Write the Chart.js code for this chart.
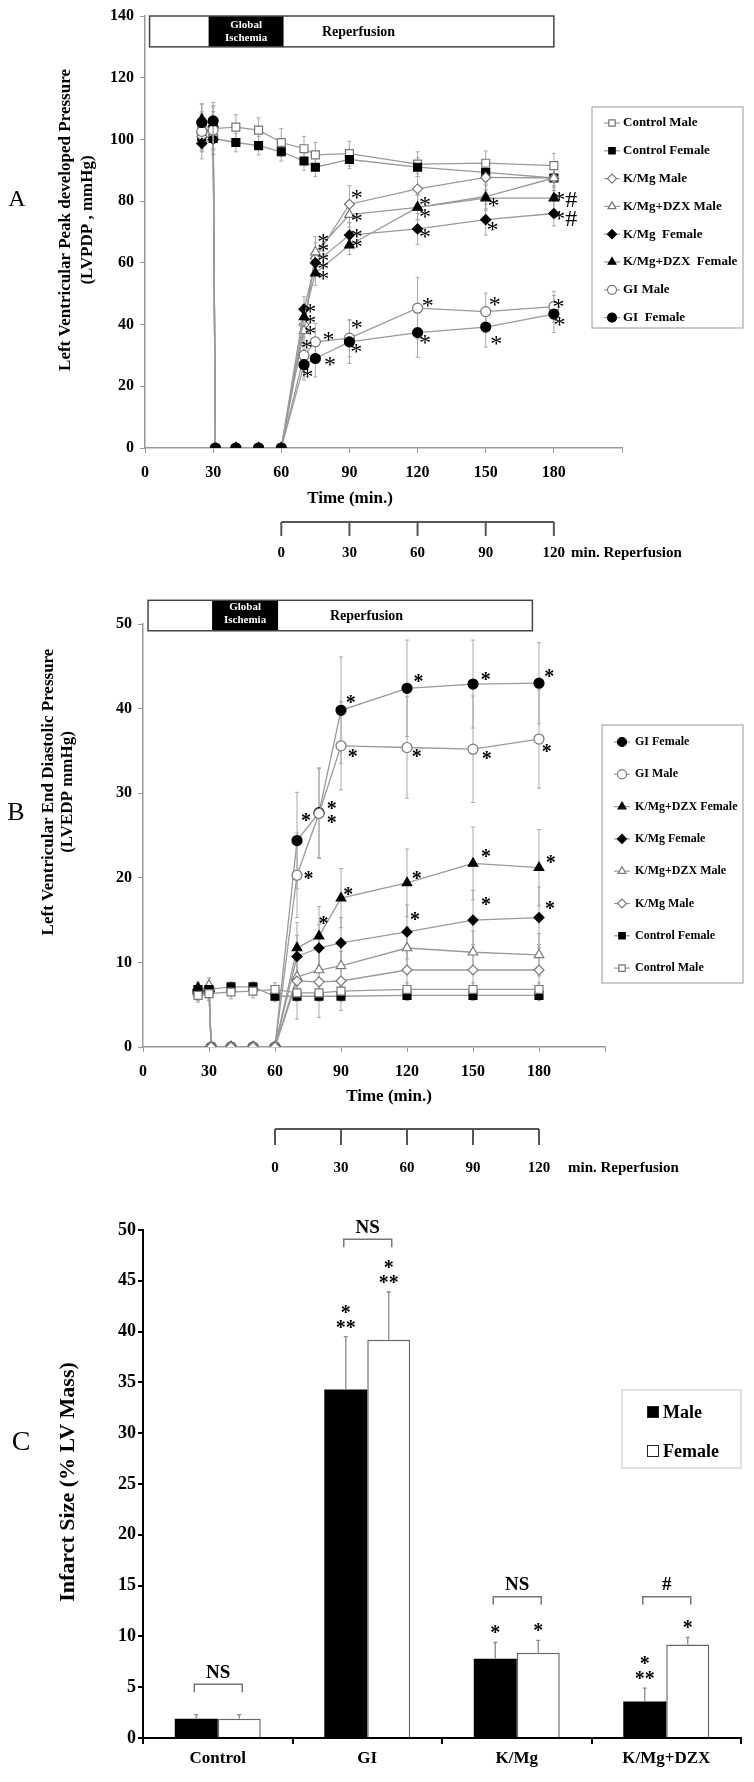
<!DOCTYPE html>
<html lang="en">
<head>
<meta charset="UTF-8">
<title>LVPDP, LVEDP and infarct size</title>
<script src="https://cdn.jsdelivr.net/npm/chart.js"></script>
<style>
  body { margin: 0; background: #fff; }
  #page { position: relative; width: 754px; height: 1782px; }
  canvas { position: absolute; left: 0; }
</style>
</head>
<body>
<div id="page">
  <canvas id="chartA" width="754" height="580" style="top:0px"></canvas>
  <canvas id="chartB" width="754" height="605" style="top:580px"></canvas>
  <canvas id="chartC" width="754" height="597" style="top:1185px"></canvas>
</div>
<script>
// ---------- Panel A: LV peak developed pressure (mmHg) ----------
const timeA = [25, 30, 31, 40, 50, 60, 70, 75, 90, 120, 150, 180];
const timeAControl = [25, 30, 40, 50, 60, 70, 75, 90, 120, 150, 180];
const labelsA = ['Control Male', 'Control Female', 'K/Mg Male', 'K/Mg+DZX Male',
                 'K/Mg  Female', 'K/Mg+DZX  Female', 'GI Male', 'GI  Female'];
const controlMaleA      = [103, 103.5, 104, 103, 99, 97, 95, 95.4, 92, 92.3, 91.5];
const controlFemaleA    = [101, 100.3, 99, 98, 96, 93, 91, 93.5, 91, 89.3, 87.5];
const kmgMaleA          = [101, 104, 0, 0, 0, 0, 40, 61.5, 79, 84, 87.7, 87.5];
const kmgDzxMaleA       = [103, 102, 0, 0, 0, 0, 38, 63.5, 75.6, 78, 81.5, 87.5];
const kmgFemaleA        = [98.7, 100, 0, 0, 0, 0, 45, 60, 69, 71, 74, 76];
const kmgDzxFemaleA     = [106.5, 105, 0, 0, 0, 0, 42.5, 56.7, 65.7, 78, 81, 81];
const giMaleA           = [102.6, 103, 0, 0, 0, 0, 30, 34.4, 35.6, 45.3, 44.2, 45.8];
const giFemaleA         = [105.5, 106, 0, 0, 0, 0, 27, 29, 34.4, 37.4, 39.2, 43.4];
const controlMaleAErr   = [6, 7, 4, 4, 4.5, 4, 4, 4, 4, 4, 4];
const controlFemaleAErr = [5, 5, 3, 3, 3, 3, 3, 3, 3, 3, 3];
const kmgMaleAErr       = [5, 5, 0, 0, 0, 0, 4, 5, 6, 5, 4, 4];
const kmgDzxMaleAErr    = [5, 5, 0, 0, 0, 0, 5, 5, 4, 4, 4, 4];
const kmgFemaleAErr     = [5, 5, 0, 0, 0, 0, 4, 4, 4, 5, 5, 4];
const kmgDzxFemaleAErr  = [5, 6, 0, 0, 0, 0, 4, 4, 3, 4, 4, 4];
const giMaleAErr        = [6, 6, 0, 0, 0, 0, 7, 6, 6, 10, 6, 5];
const giFemaleAErr      = [6, 6, 0, 0, 0, 0, 5, 6, 7, 8, 6.5, 6];
// significance marks: [time, value, text]
const marksA = [
  [72.7, 45.2, '*'], [72.7, 41.5, '*'], [72.7, 38.2, '*'], [71.2, 33.4, '*'], [71.5, 24.2, '*'],
  [78.5, 67.8, '*'], [78.5, 64.9, '*'], [78.5, 61.7, '*'], [78.5, 59.2, '*'], [78.5, 56, '*'],
  [80.8, 36.1, '*'], [81.5, 28, '*'],
  [93.2, 82, '*'], [93.2, 74.8, '*'], [93.2, 69.6, '*'], [93.2, 66.4, '*'], [93.2, 39.9, '*'], [93, 32.3, '*'],
  [123.3, 79.8, '*'], [123.3, 76, '*'], [123.3, 69.6, '*'], [124.5, 47.1, '*'], [123.3, 35.3, '*'],
  [153.4, 79.5, '*'], [153, 71.7, '*'], [154, 47.4, '*'], [154.6, 34.7, '*'],
  [185, 80.4, '*#'], [185, 74.4, '*#'], [182, 46.9, '*'], [182.5, 40.9, '*']
];

// ---------- Panel B: LV end diastolic pressure (mmHg) ----------
const timeB = [25, 30, 31, 40, 50, 60, 70, 80, 90, 120, 150, 180];
const timeBControl = [25, 30, 40, 50, 60, 70, 80, 90, 120, 150, 180];
const labelsB = ['GI Female', 'GI Male', 'K/Mg+DZX Female', 'K/Mg Female',
                 'K/Mg+DZX Male', 'K/Mg Male', 'Control Female', 'Control Male'];
const giFemaleB         = [6.5, 6.8, 0, 0, 0, 0, 24.4, 27.7, 39.8, 42.4, 42.9, 43.0];
const giMaleB           = [6.3, 6.5, 0, 0, 0, 0, 20.3, 27.6, 35.6, 35.4, 35.2, 36.4];
const kmgDzxFemaleB     = [7.0, 6.8, 0, 0, 0, 0, 11.7, 13.1, 17.6, 19.4, 21.7, 21.2];
const kmgFemaleB        = [6.8, 6.6, 0, 0, 0, 0, 10.7, 11.7, 12.3, 13.6, 15.0, 15.3];
const kmgDzxMaleB       = [6.6, 7.3, 0, 0, 0, 0, 8.3, 9.1, 9.6, 11.7, 11.2, 10.9];
const kmgMaleB          = [6.4, 6.5, 0, 0, 0, 0, 7.8, 7.7, 7.8, 9.1, 9.1, 9.1];
const controlFemaleB    = [6.8, 6.8, 7.1, 7.1, 6.0, 6.0, 6.0, 6.0, 6.1, 6.1, 6.1];
const controlMaleB      = [6.1, 6.3, 6.5, 6.6, 6.8, 6.4, 6.4, 6.6, 6.8, 6.8, 6.8];
const giFemaleBErr      = [0.8, 0.8, 0, 0, 0, 0, 5.7, 5.3, 6.3, 5.7, 5.2, 4.8];
const giMaleBErr        = [0.8, 0.8, 0, 0, 0, 0, 5, 5.3, 5.2, 6, 6.3, 5.8];
const kmgDzxFemaleBErr  = [0.7, 0.7, 0, 0, 0, 0, 3, 3.5, 3.5, 4, 4.3, 4.5];
const kmgFemaleBErr     = [0.7, 0.7, 0, 0, 0, 0, 2.5, 2.8, 3, 3.2, 3.5, 3.6];
const kmgDzxMaleBErr    = [0.8, 0.9, 0, 0, 0, 0, 2.5, 2.5, 2.5, 2.5, 2.5, 2.5];
const kmgMaleBErr       = [0.7, 0.7, 0, 0, 0, 0, 4.5, 4.2, 3.5, 3, 3, 3];
const controlFemaleBErr = [0.6, 0.6, 0.6, 0.6, 0.6, 0.6, 0.6, 0.6, 0.6, 0.6, 0.6];
const controlMaleBErr   = [0.8, 0.8, 0.8, 0.8, 0.8, 0.8, 0.8, 0.8, 0.8, 0.8, 0.8];
const marksB = [
  [74.1, 27.2, '*'], [85.8, 28.6, '*'], [85.8, 27.0, '*'], [94.4, 41.1, '*'], [95.3, 34.7, '*'],
  [75.2, 20.3, '*'], [82, 15.0, '*'], [93.3, 18.4, '*'],
  [125.2, 43.6, '*'], [124.4, 34.7, '*'], [155.8, 43.8, '*'], [156.2, 34.5, '*'],
  [184.7, 44.2, '*'], [183.5, 35.3, '*'],
  [124.4, 20.3, '*'], [123.6, 15.5, '*'], [155.9, 22.9, '*'], [155.9, 17.2, '*'],
  [185.3, 22.2, '*'], [185, 16.8, '*']
];

// shared time axis annotations
const reperfStart = 60;
const reperfTicks = [0, 30, 60, 90, 120];

// ---------- Panel C: infarct size (% LV mass) ----------
const groupsC = ['Control', 'GI', 'K/Mg', 'K/Mg+DZX'];
const infarctMale      = [1.9, 34.3, 7.8, 3.6];
const infarctFemale    = [1.9, 39.2, 8.4, 9.2];
const infarctMaleErr   = [0.4, 5.2, 1.6, 1.3];
const infarctFemaleErr = [0.4, 4.7, 1.2, 0.7];
const starsMale   = [[], ['*', '**'], ['*'], ['*', '**']];
const starsFemale = [[], ['*', '**'], ['*'], ['*']];
const pairLabels  = ['NS', 'NS', 'NS', '#'];
const pairLevel   = [5.3, 49.1, 13.9, 13.9];

// ---------- look ----------
const SERIF = '"Liberation Serif", "Times New Roman", serif';
Chart.defaults.font.family = SERIF;
Chart.defaults.color = '#000';

const markerStyles = {
  'Control Male':   { shape: 'rect', filled: false, r: 5.6 },
  'Control Female': { shape: 'rect', filled: true, r: 5.6 },
  'K/Mg Male':      { shape: 'rectRot', filled: false, r: 5 },
  'K/Mg Female':    { shape: 'rectRot', filled: true, r: 5 },
  'K/Mg+DZX Male':  { shape: 'triangle', filled: false, r: 5.5 },
  'K/Mg+DZX Female':{ shape: 'triangle', filled: true, r: 5.5 },
  'GI Male':        { shape: 'circle', filled: false, r: 5 },
  'GI Female':      { shape: 'circle', filled: true, r: 5 }
};

function series(label, times, values, errors, order) {
  const st = markerStyles[label.replace(/\s+/g, ' ')];
  return {
    label: label,
    order: order,
    data: times.map((t, i) => ({ x: t, y: values[i] })),
    errors: errors,
    borderColor: '#9a9a9a',
    borderWidth: 1.3,
    pointStyle: st.shape,
    pointRadius: st.r,
    pointBackgroundColor: st.filled ? '#000' : '#fff',
    pointBorderColor: st.filled ? '#000' : '#777',
    pointBorderWidth: 1.2,
    tension: 0,
    fill: false
  };
}

function rotated(ctx, text, cx, cy) {
  ctx.save();
  ctx.translate(cx, cy);
  ctx.rotate(-Math.PI / 2);
  ctx.textAlign = 'center';
  ctx.textBaseline = 'middle';
  ctx.fillText(text, 0, 0);
  ctx.restore();
}

// place text so that its ink is centred on (x, y)
function inkCentered(ctx, text, x, y) {
  ctx.textAlign = 'center';
  ctx.textBaseline = 'alphabetic';
  const m = ctx.measureText(text);
  const base = y + (m.actualBoundingBoxAscent - m.actualBoundingBoxDescent) / 2;
  ctx.fillText(text, x, base);
}

const lineErrorBars = {
  id: 'lineErrorBars',
  beforeDatasetsDraw(chart) {
    const ctx = chart.ctx, ys = chart.scales.y;
    ctx.save();
    ctx.strokeStyle = '#a8a8a8';
    ctx.lineWidth = 1;
    chart.data.datasets.forEach((ds, di) => {
      const meta = chart.getDatasetMeta(di);
      meta.data.forEach((pt, i) => {
        const e = ds.errors[i];
        if (!e) return;
        const v = ds.data[i].y;
        const top = ys.getPixelForValue(v + e), bot = ys.getPixelForValue(v - e);
        ctx.beginPath();
        ctx.moveTo(pt.x, top); ctx.lineTo(pt.x, bot);
        ctx.moveTo(pt.x - 2, top); ctx.lineTo(pt.x + 2, top);
        ctx.moveTo(pt.x - 2, bot); ctx.lineTo(pt.x + 2, bot);
        ctx.stroke();
      });
    });
    ctx.restore();
  }
};

function timeCourseDecor(L, marks) {
  return {
    id: 'decor' + L.letter,
    afterDraw(chart) {
      const { ctx, scales: { x, y } } = chart;
      ctx.save();
      ctx.fillStyle = '#000';

      // panel letter
      ctx.font = L.letterSize + 'px ' + SERIF;
      ctx.textAlign = 'center';
      ctx.textBaseline = 'middle';
      ctx.fillText(L.letter, L.letterPos[0], L.letterPos[1]);

      // y axis title, two rotated lines
      ctx.font = 'bold 17px ' + SERIF;
      L.title.forEach((t, i) => rotated(ctx, t, L.titleX[i], L.titleY));

      // protocol bar
      const b = L.box;
      const bx0 = x.getPixelForValue(b.start), bx1 = x.getPixelForValue(b.end);
      const by0 = y.getPixelForValue(b.top), by1 = y.getPixelForValue(b.bottom);
      const ix0 = x.getPixelForValue(b.ischStart), ix1 = x.getPixelForValue(b.ischEnd);
      ctx.fillStyle = '#fff';
      ctx.fillRect(bx0, by0, bx1 - bx0, by1 - by0);
      ctx.fillStyle = '#000';
      ctx.fillRect(ix0, by0, ix1 - ix0, by1 - by0);
      ctx.strokeStyle = '#444';
      ctx.lineWidth = 1.5;
      ctx.strokeRect(bx0, by0, bx1 - bx0, by1 - by0);
      ctx.fillStyle = '#fff';
      ctx.font = 'bold 11px ' + SERIF;
      ctx.textAlign = 'center';
      ctx.fillText('Global', (ix0 + ix1) / 2, L.globalY[0]);
      ctx.fillText('Ischemia', (ix0 + ix1) / 2, L.globalY[1]);
      ctx.fillStyle = '#000';
      ctx.font = 'bold 14px ' + SERIF;
      ctx.textAlign = 'left';
      ctx.fillText('Reperfusion', L.reperfPos[0], L.reperfPos[1]);

      // x axis title
      ctx.font = 'bold 17px ' + SERIF;
      ctx.textAlign = 'center';
      ctx.fillText('Time (min.)', L.timeTitle[0], L.timeTitle[1]);

      // reperfusion time bracket
      const br = L.bracket;
      const p0 = x.getPixelForValue(reperfStart + reperfTicks[0]);
      const p1 = x.getPixelForValue(reperfStart + reperfTicks[reperfTicks.length - 1]);
      ctx.strokeStyle = '#555';
      ctx.lineWidth = 2;
      ctx.beginPath();
      ctx.moveTo(p0, br.y); ctx.lineTo(p1, br.y);
      reperfTicks.forEach(r => {
        const px = x.getPixelForValue(reperfStart + r);
        ctx.moveTo(px, br.y); ctx.lineTo(px, br.y + br.tick);
      });
      ctx.stroke();
      ctx.font = 'bold 15px ' + SERIF;
      reperfTicks.forEach(r => ctx.fillText(String(r), x.getPixelForValue(reperfStart + r), br.labelY));
      ctx.textAlign = 'left';
      ctx.fillText('min. Reperfusion', br.textX, br.labelY);

      // legend
      const lg = L.legend;
      ctx.strokeStyle = '#b0b0b0';
      ctx.lineWidth = 1.3;
      ctx.strokeRect(lg.x, lg.y, lg.w, lg.h);
      chart.data.datasets.forEach((ds, k) => {
        const yy = lg.row0 + k * lg.step;
        ctx.strokeStyle = '#9a9a9a';
        ctx.lineWidth = 1.2;
        ctx.beginPath();
        ctx.moveTo(lg.mx - 8, yy); ctx.lineTo(lg.mx + 8, yy);
        ctx.stroke();
        ctx.fillStyle = ds.pointBackgroundColor;
        ctx.strokeStyle = ds.pointBorderColor;
        ctx.lineWidth = ds.pointBorderWidth;
        Chart.helpers.drawPoint(ctx, { pointStyle: ds.pointStyle, radius: lg.r, rotation: 0, borderWidth: ds.pointBorderWidth }, lg.mx, yy);
        ctx.fillStyle = '#000';
        ctx.font = lg.font;
        ctx.textAlign = 'left';
        ctx.textBaseline = 'middle';
        ctx.fillText(ds.label, lg.tx, yy);
      });

      // significance marks
      ctx.font = L.markFont;
      ctx.fillStyle = '#000';
      marks.forEach(m => inkCentered(ctx, m[2], x.getPixelForValue(m[0]), y.getPixelForValue(m[1])));
      ctx.restore();
    }
  };
}

function timeCourseOptions(yMax, yStep, pad, axisBoxHeight, axisWidth, labelPad) {
  return {
    responsive: false,
    animation: false,
    layout: { padding: pad },
    plugins: { legend: { display: false }, tooltip: { enabled: false } },
    scales: {
      x: {
        type: 'linear', min: 0, max: 210,
        ticks: { stepSize: 30, autoSkip: false, maxRotation: 0, padding: labelPad,
                 font: { size: 16, weight: 'bold' }, color: '#000',
                 callback: v => (v <= 180 ? v : '') },
        grid: { drawOnChartArea: false, tickLength: 5, color: '#999' },
        border: { color: '#999', width: 1.5 },
        afterFit: s => { s.height = axisBoxHeight; }
      },
      y: {
        min: 0, max: yMax,
        ticks: { stepSize: yStep, padding: 6, font: { size: 16, weight: 'bold' }, color: '#000' },
        grid: { drawOnChartArea: false, tickLength: 5, color: '#999' },
        border: { color: '#999', width: 1.5 },
        afterFit: s => { s.width = axisWidth; }
      }
    }
  };
}

// ---------- chart A ----------
const dsA = [
  series(labelsA[0], timeAControl, controlMaleA, controlMaleAErr, 7),
  series(labelsA[1], timeAControl, controlFemaleA, controlFemaleAErr, 6),
  series(labelsA[2], timeA, kmgMaleA, kmgMaleAErr, 5),
  series(labelsA[3], timeA, kmgDzxMaleA, kmgDzxMaleAErr, 4),
  series(labelsA[4], timeA, kmgFemaleA, kmgFemaleAErr, 3),
  series(labelsA[5], timeA, kmgDzxFemaleA, kmgDzxFemaleAErr, 2),
  series(labelsA[6], timeA, giMaleA, giMaleAErr, 1),
  series(labelsA[7], timeA, giFemaleA, giFemaleAErr, 0)
];
const layoutA = {
  letter: 'A', letterPos: [17, 200], letterSize: 24,
  title: ['Left Ventricular Peak developed Pressure', '(LVPDP , mmHg)'], titleX: [66, 88], titleY: 220,
  box: { start: 2, end: 180, ischStart: 28, ischEnd: 61, top: 140, bottom: 130 },
  globalY: [25, 38], reperfPos: [322, 32],
  timeTitle: [350, 499],
  bracket: { y: 522, tick: 14, labelY: 553, textX: 571 },
  legend: { x: 592, y: 107, w: 151, h: 221, row0: 123, step: 27.8, mx: 612, tx: 623, r: 4.5,
            font: 'bold 13px ' + SERIF },
  markFont: '24px ' + SERIF
};
new Chart(document.getElementById('chartA'), {
  type: 'line',
  data: { datasets: dsA },
  options: timeCourseOptions(140, 20, { left: 0, right: 132, top: 16, bottom: 0 }, 132, 145, 10),
  plugins: [lineErrorBars, timeCourseDecor(layoutA, marksA)]
});

// ---------- chart B ----------
const dsB = [
  series(labelsB[0], timeB, giFemaleB, giFemaleBErr, 7),
  series(labelsB[1], timeB, giMaleB, giMaleBErr, 6),
  series(labelsB[2], timeB, kmgDzxFemaleB, kmgDzxFemaleBErr, 5),
  series(labelsB[3], timeB, kmgFemaleB, kmgFemaleBErr, 4),
  series(labelsB[4], timeB, kmgDzxMaleB, kmgDzxMaleBErr, 3),
  series(labelsB[5], timeB, kmgMaleB, kmgMaleBErr, 2),
  series(labelsB[6], timeBControl, controlFemaleB, controlFemaleBErr, 1),
  series(labelsB[7], timeBControl, controlMaleB, controlMaleBErr, 0)
];
const layoutB = {
  letter: 'B', letterPos: [16, 233], letterSize: 26,
  title: ['Left Ventricular End Diastolic Pressure', '(LVEDP mmHg)'], titleX: [49, 68], titleY: 212,
  box: { start: 2.3, end: 177, ischStart: 31.4, ischEnd: 61.4, top: 52.8, bottom: 49.2 },
  globalY: [27, 40], reperfPos: [330, 36],
  timeTitle: [389, 517],
  bracket: { y: 549, tick: 16, labelY: 588, textX: 568 },
  legend: { x: 602, y: 145, w: 141, h: 258, row0: 162, step: 32.3, mx: 622, tx: 635, r: 4.5,
            font: 'bold 12px ' + SERIF },
  markFont: 'bold 20px ' + SERIF
};
new Chart(document.getElementById('chartB'), {
  type: 'line',
  data: { datasets: dsB },
  options: timeCourseOptions(50, 10, { left: 0, right: 149, top: 44, bottom: 0 }, 138, 143, 10),
  plugins: [lineErrorBars, timeCourseDecor(layoutB, marksB)]
});

// ---------- chart C ----------
const barErrorBars = {
  id: 'barErrorBars',
  afterDatasetsDraw(chart) {
    const ctx = chart.ctx, ys = chart.scales.y;
    ctx.save();
    ctx.strokeStyle = '#8a8a8a';
    ctx.lineWidth = 1.3;
    chart.data.datasets.forEach((ds, di) => {
      chart.getDatasetMeta(di).data.forEach((bar, i) => {
        const top = ys.getPixelForValue(ds.data[i] + ds.errors[i]);
        ctx.beginPath();
        ctx.moveTo(bar.x, bar.y); ctx.lineTo(bar.x, top);
        ctx.moveTo(bar.x - 2, top); ctx.lineTo(bar.x + 2, top);
        ctx.stroke();
      });
    });
    ctx.restore();
  }
};

const infarctDecor = {
  id: 'infarctDecor',
  afterDraw(chart) {
    const { ctx, scales: { y } } = chart;
    ctx.save();
    ctx.fillStyle = '#000';
    ctx.font = '28px ' + SERIF;
    ctx.textAlign = 'center';
    ctx.textBaseline = 'middle';
    ctx.fillText('C', 21, 258);
    ctx.font = 'bold 22px ' + SERIF;
    rotated(ctx, 'Infarct Size (% LV Mass)', 68, 297);

    // stars above error bars
    ctx.font = 'bold 20px ' + SERIF;
    const starSets = [starsMale, starsFemale];
    chart.data.datasets.forEach((ds, di) => {
      chart.getDatasetMeta(di).data.forEach((bar, i) => {
        const lines = starSets[di][i];
        const top = y.getPixelForValue(ds.data[i] + ds.errors[i]);
        lines.forEach((s, k) => {
          const fromBottom = lines.length - 1 - k;
          inkCentered(ctx, s, bar.x, top - 13 - fromBottom * 15);
        });
      });
    });

    // pair brackets
    const male = chart.getDatasetMeta(0).data, female = chart.getDatasetMeta(1).data;
    ctx.strokeStyle = '#777';
    ctx.lineWidth = 1.5;
    pairLabels.forEach((lab, i) => {
      const x0 = male[i].x - 2, x1 = female[i].x + 3;
      const yy = y.getPixelForValue(pairLevel[i]);
      ctx.beginPath();
      ctx.moveTo(x0, yy + 8); ctx.lineTo(x0, yy); ctx.lineTo(x1, yy); ctx.lineTo(x1, yy + 8);
      ctx.stroke();
      ctx.font = 'bold 19px ' + SERIF;
      inkCentered(ctx, lab, (x0 + x1) / 2, yy - 13);
    });

    // legend
    ctx.strokeStyle = '#cfcfcf';
    ctx.lineWidth = 1.2;
    ctx.strokeRect(622, 205, 119, 78);
    ctx.font = 'bold 18px ' + SERIF;
    ctx.textAlign = 'left';
    ctx.textBaseline = 'middle';
    chart.data.datasets.forEach((ds, k) => {
      const yy = 227 + k * 39;
      ctx.fillStyle = ds.backgroundColor;
      ctx.fillRect(647, yy - 6, 12, 12);
      ctx.strokeStyle = '#222';
      ctx.lineWidth = 1;
      ctx.strokeRect(647.5, yy - 5.5, 11, 11);
      ctx.fillStyle = '#000';
      ctx.fillText(ds.label, 663, yy + 1);
    });
    ctx.restore();
  }
};

new Chart(document.getElementById('chartC'), {
  type: 'bar',
  data: {
    labels: groupsC,
    datasets: [
      { label: 'Male', data: infarctMale, errors: infarctMaleErr, backgroundColor: '#000', borderWidth: 0 },
      { label: 'Female', data: infarctFemale, errors: infarctFemaleErr, backgroundColor: '#fff', borderColor: '#666', borderWidth: 1.5 }
    ]
  },
  options: {
    responsive: false,
    animation: false,
    layout: { padding: { left: 0, right: 13, top: 45, bottom: 0 } },
    datasets: { bar: { categoryPercentage: 0.575, barPercentage: 1 } },
    plugins: { legend: { display: false }, tooltip: { enabled: false } },
    scales: {
      x: {
        ticks: { font: { size: 17, weight: 'bold' }, color: '#000', padding: 4 },
        grid: { drawOnChartArea: false, tickLength: 6, color: '#000', lineWidth: 2, offset: true },
        border: { color: '#000', width: 2 },
        afterFit: s => { s.height = 44; }
      },
      y: {
        min: 0, max: 50,
        ticks: { stepSize: 5, padding: 2, font: { size: 18, weight: 'bold' }, color: '#000' },
        grid: { drawOnChartArea: false, tickLength: 5, color: '#000', lineWidth: 2 },
        border: { color: '#000', width: 2 },
        afterFit: s => { s.width = 143; }
      }
    }
  },
  plugins: [barErrorBars, infarctDecor]
});
</script>
</body>
</html>
